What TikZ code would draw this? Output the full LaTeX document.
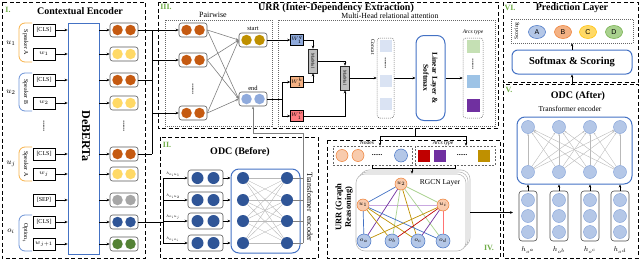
\documentclass[tikz,border=0pt]{standalone}
\usepackage{fontspec}
\setmainfont{Liberation Serif}
\newfontfamily\sansf{Liberation Sans}
\usetikzlibrary{arrows.meta,calc,shapes.geometric}
\definecolor{cOr}{HTML}{C55A11}
\definecolor{cYe}{HTML}{FFD966}
\definecolor{cGy}{HTML}{A6A6A6}
\definecolor{cNv}{HTML}{2F5597}
\definecolor{cGn}{HTML}{548235}
\definecolor{cGold}{HTML}{BF9000}
\definecolor{cLb}{HTML}{8FAADC}
\definecolor{cBl}{HTML}{4472C4}
\definecolor{cNum}{HTML}{70AD47}
\definecolor{cLtOr}{HTML}{F8CBAD}
\definecolor{cOrB}{HTML}{ED7D31}
\definecolor{cLtBl}{HTML}{B4C7E7}
\definecolor{cPur}{HTML}{7030A0}
\definecolor{cRed}{HTML}{C00000}
\definecolor{cSal}{HTML}{F4B183}
\definecolor{cPink}{HTML}{FF7C80}
\definecolor{cPale}{HTML}{DAE3F3}
\definecolor{cLgn}{HTML}{C5E0B4}
\definecolor{cSky}{HTML}{9DC3E6}
\definecolor{cGrn}{HTML}{A9D18E}
\definecolor{cLav}{HTML}{C9A8E0}
\definecolor{cSpA}{HTML}{F7B24A}
\definecolor{cSpB}{HTML}{6C93D6}
\definecolor{cYeB}{HTML}{FFC000}
\definecolor{cGnB}{HTML}{70AD47}
\newcommand\fsz[1]{\fontsize{#1}{#1}\selectfont}
\newcommand\mkvec[4]{%
  \node[vec] (#1) at (#2,#3) {};
  \node[dotc,fill=#4] (#1a) at ($(#1.center)+(-6.5,0)$) {};
  \node[dotc,fill=#4] (#1b) at ($(#1.center)+(6.5,0)$) {};}
\newcommand\mkvecB[4]{%
  \node[vec,minimum width=35pt,minimum height=16pt] (#1) at (#2,#3) {};
  \node[dotc,minimum size=12pt,fill=#4] (#1a) at ($(#1.center)+(-8,0)$) {};
  \node[dotc,minimum size=12pt,fill=#4] (#1b) at ($(#1.center)+(8,0)$) {};}
\begin{document}
\begin{tikzpicture}[x=1pt,y=-1pt,
  panel/.style={draw, line width=0.9pt, dash pattern=on 4pt off 2.5pt},
  dotbox/.style={draw=gray!80!black, line width=0.5pt, dash pattern=on 1pt off 1pt},
  dashbox/.style={draw=gray!80!black, line width=0.5pt, dash pattern=on 2pt off 1.5pt, inner sep=0},
  numlab/.style={text=cNum, font=\fsz{8}\bfseries, inner sep=0},
  ttl/.style={font=\fsz{10}\bfseries, inner sep=0},
  tok/.style={draw, line width=0.6pt, minimum width=22pt, minimum height=12pt, inner sep=0, font=\fsz{6}},
  vec/.style={draw=gray!70!black, line width=0.6pt, rounded corners=2.5pt, minimum width=28pt, minimum height=14pt, inner sep=0},
  dotc/.style={circle, minimum size=10.5pt, inner sep=0},
  arr/.style={line width=0.8pt, -{Stealth[length=3pt,width=2.6pt]}},
  ln/.style={line width=0.8pt},
  garr/.style={gray, line width=0.6pt, -{Stealth[length=3pt,width=2.4pt]}},
  dots/.style={font=\fsz{7}\bfseries, inner sep=0},
  wbox/.style={draw, line width=0.5pt, minimum width=13pt, minimum height=11pt, inner sep=0, font=\fsz{5}},
  mmbox/.style={draw=gray!30!black, fill=gray!50, line width=0.6pt, minimum width=9pt, minimum height=24pt, inner sep=0},
  sq/.style={minimum size=12pt, inner sep=0},
  gnu/.style={circle, fill=cLtOr, draw=cOrB, minimum size=12pt, inner sep=0, font=\fsz{6}, line width=0.5pt},
  gno/.style={circle, fill=cLtBl, draw=cBl, minimum size=14pt, inner sep=0, font=\fsz{6}, line width=0.5pt},
  gedge/.style={line width=0.7pt},
  rgbox/.style={draw=gray!55, fill=white, line width=0.6pt, rounded corners=9pt, minimum width=110pt, minimum height=77pt, inner sep=0},
  tfbox/.style={draw=cBl, line width=1pt, rounded corners=8pt, inner sep=0},
  nvc/.style={circle, fill=cNv, minimum size=12pt, inner sep=0},
  lbc/.style={circle, fill=cLtBl, draw=cBl!70, line width=0.4pt, minimum size=13pt, inner sep=0},
  spk/.style={line width=0.8pt, rounded corners=6pt},
  hlab/.style={font=\fsz{5}, scale=0.7, anchor=south west, inner sep=0.3pt},
  opt/.style={ellipse, minimum width=17pt, minimum height=13pt, inner sep=0, line width=0.5pt, font=\sansf\fsz{7}}
]
\useasboundingbox (0,0) rectangle (640,260);

% ================= Panel I =================
\draw[panel] (2,2) rectangle (145,258);
\node[numlab] (n1) at (8,10) {I.};
\node[ttl] (t1) at (80,11) {Contextual Encoder};

\node[tok] (k1) at (44,30) {[CLS]};
\node[tok] (k2) at (44,54) {$w_1$};
\node[tok] (k3) at (44,80) {[CLS]};
\node[tok] (k4) at (44,103) {$w_2$};
\node[tok] (k5) at (44,154) {[CLS]};
\node[tok] (k6) at (44,174) {$w_j$};
\node[tok] (k7) at (44,200) {[SEP]};
\node[tok] (k8) at (44,222) {[CLS]};
\node[tok] (k9) at (44,244) {$w_{j+1}$};
\node[dots, rotate=90] (kd) at (44,126) {......};

\draw[spk, cSpA] (32,23) -- (19,23) -- (19,62) -- (32,62);
\node[rotate=-90, font=\fsz{6}, inner sep=0] (sa1) at (25.5,42.5) {Speaker A};
\draw[spk, cSpB] (32,73) -- (19,73) -- (19,111) -- (32,111);
\node[rotate=-90, font=\fsz{6}, inner sep=0] (sb1) at (25.5,92) {Speaker B};
\draw[spk, cSpA] (32,147) -- (19,147) -- (19,181) -- (32,181);
\node[rotate=-90, font=\fsz{6}, inner sep=0] (sa2) at (25.5,164) {Speaker A};
\draw[spk, cSpB] (32,215) -- (19,215) -- (19,251) -- (32,251);
\node[rotate=-90, font=\fsz{6}, inner sep=0] (so1) at (25.5,233) {Option$_i$};

\node[font=\fsz{8}, inner sep=0] (lu1) at (11,43) {$u_1$};
\node[font=\fsz{8}, inner sep=0] (lu2) at (11,92) {$u_2$};
\node[font=\fsz{8}, inner sep=0] (luj) at (11,164) {$u_j$};
\node[font=\fsz{8}, inner sep=0] (loi) at (11,231) {$o_i$};

\node[draw=cBl, line width=0.8pt, minimum width=31pt, minimum height=231pt, inner sep=0] (deb) at (83.5,138.5) {};
\node[rotate=-90, font=\fsz{12}\bfseries, inner sep=0] (debt) at (86,136) {DeBERTa};
\foreach \k in {k1,k2,k3,k4,k5,k6,k7,k8,k9} \draw[arr] (\k.east) -- (\k.east -| deb.west);

\mkvec{v1}{124}{30}{cOr}
\mkvec{v2}{124}{54}{cYe}
\mkvec{v3}{124}{80}{cOr}
\mkvec{v4}{124}{103}{cYe}
\mkvec{v5}{124}{154}{cOr}
\mkvec{v6}{124}{174}{cYe}
\mkvec{v7}{124}{200}{cGy}
\mkvec{v8}{124}{222}{cNv}
\mkvec{v9}{124}{244}{cGn}
\node[dots, rotate=90] (vd) at (124,126) {......};
\foreach \v in {v1,v2,v3,v4,v5,v6,v7,v8,v9} \draw[arr] (\v.west -| deb.east) -- (\v.west);

% ================= Panel III =================
\draw[panel] (158,2) rectangle (498,128);
\node[numlab] (n3) at (166,7) {III.};
\node[ttl] (t3) at (336,8) {URR (Inter-Dependency Extraction)};

\draw[dotbox] (165,20) rectangle (272,126);
\node[font=\fsz{8}, inner sep=0] (pw) at (213,15) {Pairwise};
\mkvec{p1}{193}{30}{cOr}
\mkvec{p2}{193}{60}{cOr}
\mkvec{p3}{193}{113}{cOr}
\node[dots, rotate=90] (pd) at (193,89) {......};
\mkvec{st}{253}{40}{cGold}
\mkvec{en}{253}{99}{cLb}
\node[font=\fsz{6.5}, inner sep=0] (stl) at (253,29) {start};
\node[font=\fsz{6.5}, inner sep=0] (enl) at (253,88) {end};
\foreach \p in {p1,p2,p3} {
  \draw[garr] (\p.east) -- (st.west);
  \draw[garr] (\p.east) -- (en.west);
}

\draw[dotbox] (278,20) rectangle (495,126);
\node[font=\fsz{7.8}, inner sep=0] (mh) at (390,16) {Multi-Head relational attention};
\node[wbox, fill=cLb] (wq) at (297,40) {$W^{q}_{1}$};
\node[wbox, fill=cSal] (wk) at (297,82) {$W^{k}_{1}$};
\node[wbox, fill=cPink] (wv) at (297,116) {$W^{v}_{1}$};
\node[mmbox] (mm1) at (313,61) {};
\node[rotate=-90, font=\fsz{4.5}, inner sep=0] (mm1t) at (mm1) {MatMul};
\node[mmbox] (mm2) at (345,78) {};
\node[rotate=-90, font=\fsz{4.5}, inner sep=0] (mm2t) at (mm2) {MatMul};
\coordinate (ej) at (282,99);
\draw[arr] (st.east) -- (wq.west);
\draw[ln] (en.east) -- (ej);
\draw[arr] (ej) |- (wk.west);
\draw[arr] (ej) |- (wv.west);
\draw[arr] (wq.east) -| (mm1.north);
\draw[arr] (wk.east) -| (mm1.south);
\draw[arr] (mm1.east) -| (mm2.north);
\draw[arr] (wv.east) -| (mm2.south);

\node[dotbox, rounded corners=3pt, minimum width=17pt, minimum height=80pt, inner sep=0] (cc) at (385.5,78) {};
\node[sq, fill=cPale] (cs1) at (385.5,46) {};
\node[dots, rotate=90] (csd) at (385.5,63) {......};
\node[sq, fill=cPale] (cs2) at (385.5,81) {};
\node[sq, fill=cPale] (cs3) at (385.5,104) {};
\node[rotate=-90, font=\fsz{5.5}, inner sep=0] (ccl) at (373,47) {Concat};
\draw[arr] (mm2.east) -- (mm2.east -| cc.west);

\node[tfbox, minimum width=29pt, minimum height=85pt] (lin) at (430.5,78) {};
\node[rotate=-90, align=center, font=\fsz{7.5}\bfseries, inner sep=0] (lint) at (lin) {Linear Layer \&\\[1.5pt]Softmax};
\draw[arr] (cc.east) -- (cc.east -| lin.west);

\node[dotbox, rounded corners=3pt, minimum width=20pt, minimum height=80pt, inner sep=0] (ar) at (473,78) {};
\node[font=\fsz{5.5}\itshape, inner sep=0] (arl) at (473,32) {Arcs type};
\node[sq, minimum size=13pt, fill=cLgn] (as1) at (473,46) {};
\node[dots, rotate=90] (asd) at (473,64) {......};
\node[sq, minimum size=13pt, fill=cSky] (as2) at (473,81) {};
\node[sq, minimum size=13pt, fill=cPur] (as3) at (473,105) {};
\draw[arr] (lin.east) -- (lin.east -| ar.west);

% links I -> III and I -> II
\coordinate (b1) at (152,30);
\coordinate (b2) at (152,154);
\draw[arr] (v1.east) -- (p1.west);
\draw[ln] (b1) -- (b2);
\draw[ln] (v3.east) -- (v3.east -| b1);
\draw[ln] (v5.east) -- (v5.east -| b1);
\draw[arr] (p2.west -| b1) -- (p2.west);
\draw[arr] (p3.west -| b1) -- (p3.west);

% ================= Panel II =================
\draw[panel] (160,137) rectangle (318,258);
\node[numlab] (n2) at (167,145) {II.};
\node[ttl] (t2) at (240,152) {ODC (Before)};
\mkvecB{q1}{205.5}{178}{cNv}
\mkvecB{q2}{205.5}{200}{cNv}
\mkvecB{q3}{205.5}{221}{cNv}
\mkvecB{q4}{205.5}{243}{cNv}
\coordinate (c1) at (163,178);
\coordinate (c2) at (163,243);
\draw[ln] (v8.east) -- (v8.east -| c1);
\draw[ln] (c1) -- (c2);
\foreach \q in {q1,q2,q3,q4} \draw[arr] (\q.west -| c1) -- (\q.west);
\node[hlab] (h1) at (166,177) {$h_{o_iu_1}$};
\node[hlab] (h2) at (166,199) {$h_{o_iu_2}$};
\node[hlab] (h3) at (166,220) {$h_{o_iu_j}$};
\node[hlab] (h4) at (166,242) {$h_{o_io_i}$};

\node[tfbox, minimum width=69pt, minimum height=84pt] (tf) at (265.5,211) {};
\node[nvc] (l1) at (243,178) {};
\node[nvc] (l2) at (243,200) {};
\node[nvc] (l3) at (243,221) {};
\node[nvc] (l4) at (243,243) {};
\node[nvc] (r1) at (287,178) {};
\node[nvc] (r2) at (287,200) {};
\node[nvc] (r3) at (287,221) {};
\node[nvc] (r4) at (287,243) {};
\foreach \a in {1,2,3,4} \foreach \b in {1,2,3,4} \draw[gray!55, line width=0.4pt] (l\a) -- (r\b);
\foreach \q in {q1,q2,q3,q4} \draw[arr] (\q.east) -- (\q.east -| tf.west);
\coordinate (g1) at (303,243);
\coordinate (g2) at (303,133);
\foreach \b in {1,2,3,4} \draw[gray, line width=0.6pt] (r\b.east) -- (r\b.east -| g1);
\draw[garr] (g1) -- (g2) -| (en.south);
\node[rotate=-90, font=\fsz{8}, inner sep=0] (tft) at (310,207) {Transformer\ \ encoder};

% ================= Panel IV =================
\coordinate (d0) at (415,128);
\coordinate (d1) at (415,136);
\coordinate (d2) at (380,136);
\coordinate (d3) at (466,136);
\draw[ln] (d0) -- (d1);
\draw[ln] (d2) -- (d3);
\draw[panel] (327,140) rectangle (500,258);

\node[dashbox, minimum width=79pt, minimum height=19pt] (nb) at (372.5,155.5) {};
\node[font=\fsz{5.5}, inner sep=0] (nbl) at (367,143) {Nodes};
\node[gnu] (nc1) at (342,155.5) {};
\node[gnu] (nc2) at (358,155.5) {};
\node[dots] (ncd) at (377,155) {......};
\node[gno, minimum size=13pt] (nc3) at (401,155.5) {};

\node[dashbox, minimum width=80pt, minimum height=19pt] (ab) at (455,155.5) {};
\node[font=\fsz{5.5}\itshape, inner sep=0] (abl) at (443,143) {Arcs type};
\node[sq, fill=cRed] (ab1) at (424,155.5) {};
\node[sq, fill=cPur] (ab2) at (440,155.5) {};
\node[dots] (abd) at (462,155) {......};
\node[sq, fill=cGold] (ab3) at (484,155.5) {};
\draw[arr] (d2) -- (d2 |- nb.north);
\draw[arr] (d3) -- (d3 |- ab.north);

\node[rgbox] (rgb2) at (415,208.5) {};
\node[rgbox] (rgb1) at (413,210.5) {};
\node[rgbox] (rg) at (411,212.5) {};
\coordinate (e1) at (372,168);
\coordinate (e2) at (455,168);
\coordinate (e3) at (412,168);
\draw[ln] (e1 |- nb.south) -- (e1) -- (e2) -- (e2 |- ab.south);
\draw[arr] (e3) -- (e3 |- rg.north);
\node[font=\fsz{7.5}, inner sep=0] (rgl) at (440,183) {RGCN Layer};

\node[gnu] (u2) at (401,184) {$u_2$};
\node[gnu] (u1) at (363,205) {$u_1$};
\node[gnu] (ui) at (443,205) {$u_i$};
\node[gno] (oa) at (364,241) {$o_a$};
\node[gno] (ob) at (392,241) {$o_b$};
\node[gno] (oc) at (418,241) {$o_c$};
\node[gno] (od) at (443,241) {$o_d$};
\draw[gedge, cBl] (u2) -- (u1);
\draw[gedge, cGrn] (u2) -- (ui);
\draw[gedge, cLav] (u1) -- (ui);
\draw[gedge, cPur] (u2) -- (oa);
\draw[gedge, cGrn] (u2) -- (ob);
\draw[gedge, cGold] (u2) -- (oc);
\draw[gedge, cGrn] (u2) -- (od);
\draw[gedge, cBl] (u1) -- (oa);
\draw[gedge, cGold] (u1) -- (ob);
\draw[gedge, cGold] (u1) -- (oc);
\draw[gedge, cBl] (u1) -- (od);
\draw[gedge, cGold] (ui) -- (oa);
\draw[gedge, cRed] (ui) -- (ob);
\draw[gedge, cPur] (ui) -- (oc);
\draw[gedge, red!55] (ui) -- (od);

\node[rotate=90, align=center, font=\fsz{8.5}\bfseries, inner sep=0] (t4) at (344,207) {URR (Graph\\[1pt]Reasoning)};
\node[numlab] (n4) at (489,248) {IV.};

% ================= Panel V =================
\draw[panel] (503,84) rectangle (638,258);
\node[numlab] (n5) at (509,90) {V.};
\node[ttl] (t5) at (578,96) {ODC (After)};
\node[font=\fsz{7.5}, inner sep=0] (t5b) at (570,109) {Transformer encoder};
\node[tfbox, minimum width=115pt, minimum height=67pt] (tv) at (574.5,150.5) {};
\foreach \i/\xx in {1/528,2/559,3/590,4/620} {
  \node[lbc] (tt\i) at (\xx,127) {};
  \node[lbc] (tb\i) at (\xx,172) {};
}
\foreach \a in {1,2,3,4} \foreach \b in {1,2,3,4}
  \draw[gray!55, line width=0.4pt, -{Stealth[length=2pt,width=1.8pt]}] (tb\a) -- (tt\b);
\foreach \i/\xx/\lab in {1/528/a,2/559/b,3/590/c,4/620/d} {
  \node[draw=gray!60!black, line width=0.6pt, rounded corners=3pt, minimum width=18pt, minimum height=50pt, inner sep=0] (col\i) at (\xx,216) {};
  \node[lbc] (cA\i) at (\xx,200) {};
  \node[lbc] (cB\i) at (\xx,216) {};
  \node[lbc] (cC\i) at (\xx,232) {};
  \node[font=\fsz{7}, inner sep=0] (hl\i) at (\xx,250) {$h_{o^{\lab}}$};
  \draw[arr] (col\i.north) -- (col\i.north |- tv.south);
}
\coordinate (f1) at (513,212.5);
\draw[arr] (rg.east -| rgb2.east) -- (f1);

% ================= Panel VI =================
\draw[panel] (503,2) rectangle (638,82);
\node[numlab] (n6) at (510,8) {VI.};
\node[ttl] (t6) at (572,8) {Prediction Layer};
\node[dotbox, minimum width=122pt, minimum height=24pt, inner sep=0] (sc) at (572,31) {};
\node[rotate=90, font=\fsz{5.5}, inner sep=0] (scl) at (517,31) {Scoring};
\node[opt, fill=cLtBl, draw=cBl] (oA) at (537,32) {A};
\node[opt, fill=cSal, draw=cOrB] (oB) at (563,32) {B};
\node[opt, fill=cYe, draw=cYeB] (oC) at (588,32) {C};
\node[opt, fill=cGrn, draw=cGnB] (oD) at (614,32) {D};
\node[tfbox, rounded corners=6pt, minimum width=120pt, minimum height=24pt, font=\fsz{10.5}\bfseries] (sm) at (572,62) {Softmax \& Scoring};
\coordinate (s0) at (572,85);
\draw[arr] (s0) -- (s0 |- sm.south);
\draw[arr] (sm.north) -- (sm.north |- sc.south);
\end{tikzpicture}
\end{document}
